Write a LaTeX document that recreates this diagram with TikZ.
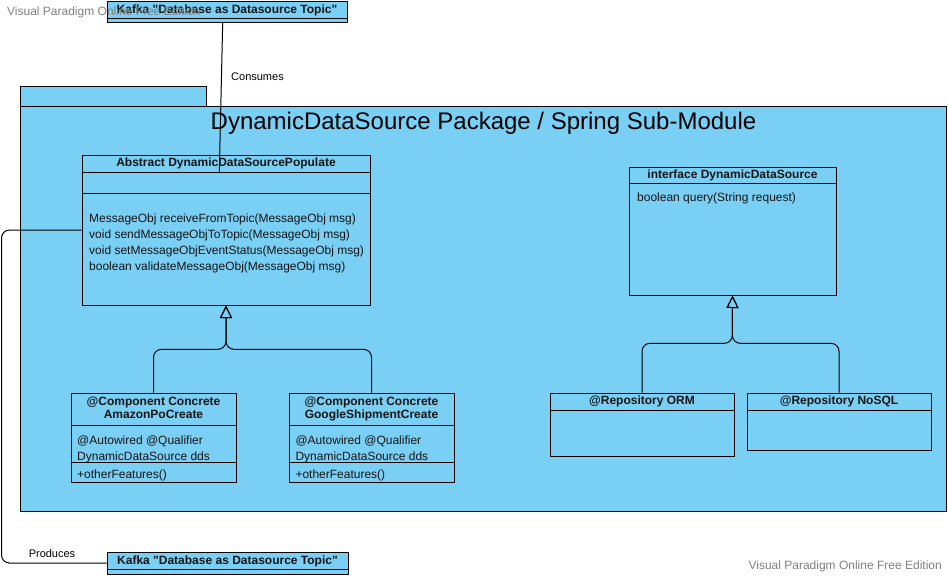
\documentclass[tikz,border=0pt]{standalone}
\usepackage{fontspec}
\setmainfont{Liberation Sans}
\usetikzlibrary{arrows.meta}
\definecolor{vpblue}{RGB}{122,207,244}
\definecolor{wmgray}{RGB}{128,128,128}
\definecolor{txt}{RGB}{20,20,20}
\tikzset{
  umlbox/.style={draw=black, fill=vpblue, line width=1pt, inner sep=0pt, rectangle},
  sepline/.style={draw=black, line width=1pt},
  conn/.style={draw=black, line width=1pt},
  gen/.style={conn, rounded corners=8pt, -{Triangle[open,length=12.5pt,width=12pt]}},
  hdr/.style={inner sep=0pt, text=txt, font=\fontsize{12}{14}\selectfont\bfseries, text height=9pt, text depth=2.5pt},
  member/.style={anchor=west, inner sep=0pt, text=txt, font=\fontsize{12}{14}\selectfont, text height=9.5pt, text depth=2.5pt},
  lbl/.style={inner sep=0pt, text=black, font=\fontsize{11}{13}\selectfont},
  wmark/.style={inner sep=0pt, text=wmgray, font=\fontsize{12}{14}\selectfont},
}
\begin{document}
\begin{tikzpicture}[x=1pt,y=-1pt]
\useasboundingbox (0,0) rectangle (948,576);

% package
\node[umlbox, minimum width=186, minimum height=20] (pkgtab) at (113,96) {};
\node[umlbox, minimum width=926, minimum height=405] (pkg) at (483,308.5) {};
\node[inner sep=0pt, font=\fontsize{24}{28}\selectfont, text=black] (pkgtitle) at (483.5,123.5) {DynamicDataSource Package / Spring Sub-Module};

% Kafka top
\node[umlbox, minimum width=240, minimum height=21] (kafkaTop) at (227,11.5) {};
\draw[sepline] (107,18) -- (347,18);
\node[hdr] (kafkaTopT) at (227,10) {Kafka \textquotedbl Database as Datasource Topic\textquotedbl};

% Kafka bottom
\node[umlbox, minimum width=241, minimum height=22] (kafkaBot) at (227.5,563) {};
\draw[sepline] (107,569.3) -- (348,569.3);
\node[hdr] (kafkaBotT) at (227.5,561) {Kafka \textquotedbl Database as Datasource Topic\textquotedbl};

% Abstract class
\node[umlbox, minimum width=288, minimum height=150] (abs) at (226,230) {};
\draw[sepline] (82,172.3) -- (370,172.3);
\draw[sepline] (82,193.3) -- (370,193.3);
\node[hdr] (absT) at (226,163.5) {Abstract DynamicDataSourcePopulate};
\node[member] (absM1) at (89,219.3) {MessageObj receiveFromTopic(MessageObj msg)};
\node[member] (absM2) at (89,235.3) {void sendMessageObjToTopic(MessageObj msg)};
\node[member] (absM3) at (89,251.2) {void setMessageObjEventStatus(MessageObj msg)};
\node[member] (absM4) at (89,267.2) {boolean validateMessageObj(MessageObj msg)};

% Interface
\node[umlbox, minimum width=207, minimum height=128] (iface) at (732.5,231) {};
\draw[sepline] (629,183.7) -- (836,183.7);
\node[hdr] (ifaceT) at (732.5,175) {interface DynamicDataSource};
\node[member] (ifaceM1) at (637,198) {boolean query(String request)};

% Amazon
\node[umlbox, minimum width=165, minimum height=89] (amazon) at (153.5,437.5) {};
\draw[sepline] (71,425.7) -- (236,425.7);
\draw[sepline] (71,462.3) -- (236,462.3);
\node[hdr] (amazonT1) at (153.5,402) {@Component Concrete};
\node[hdr] (amazonT2) at (153.5,415.5) {AmazonPoCreate};
\node[member] (amazonA1) at (77,441) {@Autowired @Qualifier};
\node[member] (amazonA2) at (77,456.7) {DynamicDataSource dds};
\node[member] (amazonO1) at (77,475) {+otherFeatures()};

% Google
\node[umlbox, minimum width=165, minimum height=89] (google) at (371.5,437.5) {};
\draw[sepline] (289,425.7) -- (454,425.7);
\draw[sepline] (289,462.3) -- (454,462.3);
\node[hdr] (googleT1) at (371.5,402) {@Component Concrete};
\node[hdr] (googleT2) at (371.5,415.5) {GoogleShipmentCreate};
\node[member] (googleA1) at (295.3,441) {@Autowired @Qualifier};
\node[member] (googleA2) at (295.3,456.7) {DynamicDataSource dds};
\node[member] (googleO1) at (295.3,475) {+otherFeatures()};

% ORM
\node[umlbox, minimum width=184, minimum height=63] (orm) at (642,424.5) {};
\draw[sepline] (550,410.3) -- (734,410.3);
\node[hdr] (ormT) at (642,401.5) {@Repository ORM};

% NoSQL
\node[umlbox, minimum width=184, minimum height=57] (nosql) at (839,421.5) {};
\draw[sepline] (747,410.3) -- (931,410.3);
\node[hdr] (nosqlT) at (839,401.5) {@Repository NoSQL};

% generalizations
\coordinate (jA) at (226,349.3);
\coordinate (jB) at (732.3,343.3);
\draw[gen] (amazon.north) -- (amazon.north |- jA) -- (jA) -- (abs.south);
\draw[gen] (google.north) -- (google.north |- jA) -- (jA) -- (abs.south);
\draw[gen] (orm.north) -- (orm.north |- jB) -- (jB) -- (iface.south);
\draw[gen] (nosql.north) -- (nosql.north |- jB) -- (jB) -- (iface.south);

% Consumes
\coordinate (consStart) at (222.7,22);
\coordinate (consEnd) at (219.3,173);
\draw[conn] (consStart) -- (consEnd);
\node[lbl, anchor=west] (consL) at (231,76.5) {Consumes};

% Produces
\coordinate (prodC) at (1.5,563);
\draw[conn, rounded corners=8pt] (abs.west) -| (prodC) -- (kafkaBot.west);
\node[lbl] (prodL) at (52,553.5) {Produces};

% watermarks
\node[wmark, anchor=west] (wm1) at (7,12.5) {Visual Paradigm Online Free Edition};
\node[wmark, anchor=east] (wm2) at (942,566.5) {Visual Paradigm Online Free Edition};
\end{tikzpicture}
\end{document}
